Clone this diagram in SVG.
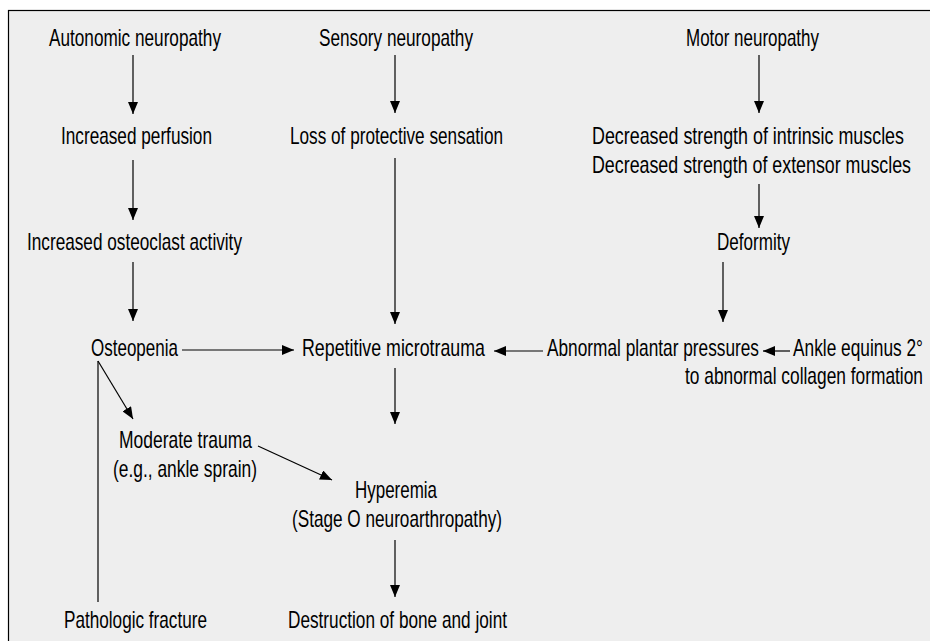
<svg xmlns="http://www.w3.org/2000/svg" width="930" height="641" viewBox="0 0 930 641">
<style>
text{font-family:"Liberation Sans",Arial,sans-serif;font-size:23px;fill:#000}
.c{stroke:#000;stroke-width:1.2;fill:none}
.n{transform:scale(0.75,1)}
</style>
<defs>
<marker id="ah" markerUnits="userSpaceOnUse" markerWidth="12" markerHeight="10" refX="12" refY="5" orient="auto">
<path d="M0,0 L12,5 L0,10 z" fill="#000"/>
</marker>
</defs>
<rect width="930" height="641" fill="#fff"/>
<rect x="8.5" y="10.5" width="940" height="650" fill="#eeeeee" stroke="#000" stroke-width="1.2"/>
<g id="connectors">
<line class="c" x1="133" y1="55" x2="133" y2="114" marker-end="url(#ah)"/>
<line class="c" x1="395" y1="55" x2="395" y2="113" marker-end="url(#ah)"/>
<line class="c" x1="759" y1="55" x2="759" y2="113" marker-end="url(#ah)"/>
<line class="c" x1="133" y1="160" x2="133" y2="220" marker-end="url(#ah)"/>
<line class="c" x1="759" y1="184" x2="759" y2="228" marker-end="url(#ah)"/>
<line class="c" x1="133" y1="262" x2="133" y2="321" marker-end="url(#ah)"/>
<line class="c" x1="395" y1="158" x2="395" y2="324" marker-end="url(#ah)"/>
<line class="c" x1="723" y1="262" x2="723" y2="322" marker-end="url(#ah)"/>
<line class="c" x1="182" y1="350" x2="294" y2="350" marker-end="url(#ah)"/>
<line class="c" x1="543" y1="351" x2="494" y2="351" marker-end="url(#ah)"/>
<line class="c" x1="790" y1="351" x2="763" y2="351" marker-end="url(#ah)"/>
<line class="c" x1="395" y1="368" x2="395" y2="424" marker-end="url(#ah)"/>
<line class="c" x1="98" y1="361" x2="133" y2="419" marker-end="url(#ah)"/>
<line class="c" x1="98" y1="361" x2="98" y2="602"/>
<line class="c" x1="258" y1="446" x2="332" y2="480" marker-end="url(#ah)"/>
<line class="c" x1="395" y1="540" x2="395" y2="597" marker-end="url(#ah)"/>
</g>
<g id="autonomic" class="n"><text x="65.33" y="46" textLength="229.33" lengthAdjust="spacingAndGlyphs">Autonomic neuropathy</text></g>
<g id="sensory" class="n"><text x="425.33" y="46" textLength="205.33" lengthAdjust="spacingAndGlyphs">Sensory neuropathy</text></g>
<g id="motor" class="n"><text x="914.67" y="46" textLength="177.33" lengthAdjust="spacingAndGlyphs">Motor neuropathy</text></g>
<g id="perfusion" class="n"><text x="81.33" y="144" textLength="201.33" lengthAdjust="spacingAndGlyphs">Increased perfusion</text></g>
<g id="loss" class="n"><text x="386.67" y="144" textLength="284" lengthAdjust="spacingAndGlyphs">Loss of protective sensation</text></g>
<g id="strength" class="n">
<text x="789.33" y="144" textLength="416" lengthAdjust="spacingAndGlyphs">Decreased strength of intrinsic muscles</text>
<text x="789.33" y="173" textLength="425.33" lengthAdjust="spacingAndGlyphs">Decreased strength of extensor muscles</text>
</g>
<g id="osteoclast" class="n"><text x="36" y="250" textLength="286.67" lengthAdjust="spacingAndGlyphs">Increased osteoclast activity</text></g>
<g id="deformity" class="n"><text x="956" y="250" textLength="97.33" lengthAdjust="spacingAndGlyphs">Deformity</text></g>
<g id="osteopenia" class="n"><text x="121.33" y="356" textLength="116" lengthAdjust="spacingAndGlyphs">Osteopenia</text></g>
<g id="microtrauma" class="n"><text x="402.67" y="356" textLength="244" lengthAdjust="spacingAndGlyphs">Repetitive microtrauma</text></g>
<g id="plantar" class="n"><text x="729.33" y="356" textLength="282.67" lengthAdjust="spacingAndGlyphs">Abnormal plantar pressures</text></g>
<g id="equinus" class="n">
<text x="1057.33" y="356" textLength="173.33" lengthAdjust="spacingAndGlyphs">Ankle equinus 2°</text>
<text x="913.33" y="384" textLength="317.33" lengthAdjust="spacingAndGlyphs">to abnormal collagen formation</text>
</g>
<g id="moderate" class="n">
<text x="158.67" y="448" textLength="177.33" lengthAdjust="spacingAndGlyphs">Moderate trauma</text>
<text x="150.67" y="477" textLength="192" lengthAdjust="spacingAndGlyphs">(e.g., ankle sprain)</text>
</g>
<g id="hyperemia" class="n">
<text x="473.33" y="498" textLength="109.33" lengthAdjust="spacingAndGlyphs">Hyperemia</text>
<text x="389.33" y="527" textLength="280" lengthAdjust="spacingAndGlyphs">(Stage O neuroarthropathy)</text>
</g>
<g id="fracture" class="n"><text x="85.33" y="628" textLength="190.67" lengthAdjust="spacingAndGlyphs">Pathologic fracture</text></g>
<g id="destruction" class="n"><text x="384" y="628" textLength="292" lengthAdjust="spacingAndGlyphs">Destruction of bone and joint</text></g>
</svg>
